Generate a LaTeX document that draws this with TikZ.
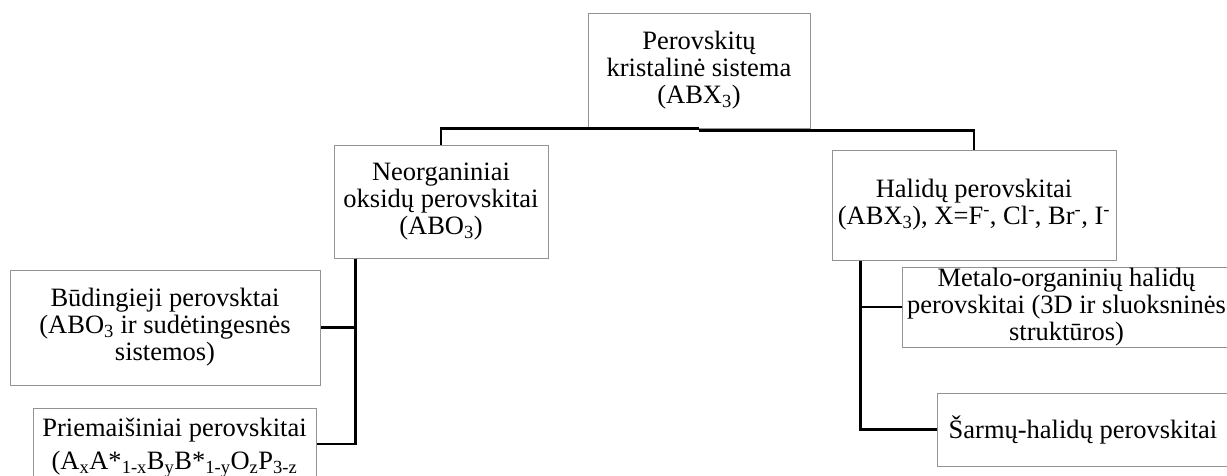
\documentclass[tikz,border=0pt]{standalone}
\usepackage{fontspec}
\setmainfont{Liberation Serif}
\usepackage{tikz}
\usetikzlibrary{positioning}

\tikzset{
	box/.style={rectangle, draw=gray!85, line width=1pt, align=center, inner sep=0pt,
		font=\fontsize{26.5}{27}\selectfont},
	link/.style={draw=black, line width=2.6pt}
}

\begin{document}
\begin{tikzpicture}[x=1pt, y=-1pt]
	\useasboundingbox (0,0) rectangle (1227,475);
	\clip (0,0) rectangle (1227,475);

	\node[box, minimum width=222, minimum height=115] (sys) at (699,70.5) {Perovskitų\\kristalinė sistema\\(ABX\textsubscript{3})};
	\node[box, minimum width=214, minimum height=113] (oks) at (441,201.5) {Neorganiniai\\oksidų perovskitai\\(ABO\textsubscript{3})};
	\node[box, minimum width=284, minimum height=110] (hal) at (974,205) {Halidų perovskitai\\(ABX\textsubscript{3}), X=F\textsuperscript{-}, Cl\textsuperscript{-}, Br\textsuperscript{-}, I\textsuperscript{-}};

	\node[box, minimum width=310, minimum height=115] (bud) at (165,327.5) {Būdingieji perovsktai\\(ABO\textsubscript{3} ir sudėtingesnės\\sistemos)};
	\node[box, minimum width=283, minimum height=72] (prie) at (174.5,444) {\rule{0pt}{26pt}Priemaišiniai perovskitai\\[6pt](A\textsubscript{x}A*\textsubscript{1-x}B\textsubscript{y}B*\textsubscript{1-y}O\textsubscript{z}P\textsubscript{3-z}};

	\node[box, minimum width=329, minimum height=80] (mo) at (1066.5,307) {Metalo-organinių halidų\\perovskitai (3D ir sluoksninės\\struktūros)};
	\node[box, minimum width=292, minimum height=73] (sh) at (1083,429.5) {Šarmų-halidų perovskitai};

	\draw[link] (sys.south) -| (oks.north);
	\draw[link] ([yshift=-2pt]sys.south) -| (hal.north);

	\draw[link] ([xshift=22pt]oks.south west) |- (bud.east);
	\draw[link] ([xshift=22pt]oks.south west) |- (prie.east);

	\draw[link] ([xshift=29pt]hal.south west) |- (mo.west);
	\draw[link] ([xshift=29pt]hal.south west) |- (sh.west);

\end{tikzpicture}
\end{document}
